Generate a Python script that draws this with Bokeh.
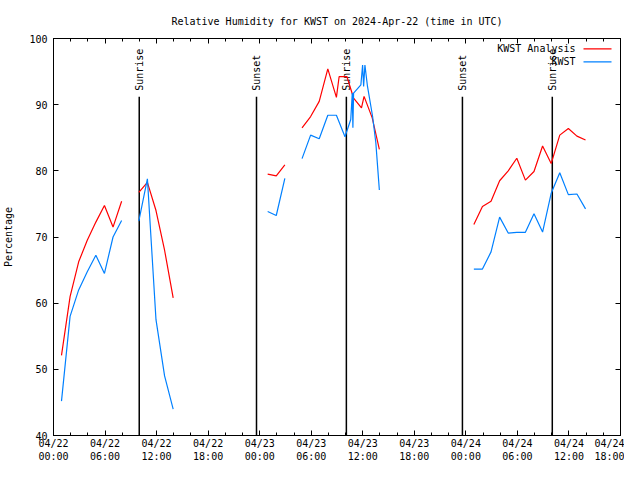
import numpy as np
from bokeh.plotting import figure
from bokeh.models import (Range1d, FixedTicker, LinearAxis, Label, BoxAnnotation,
                          CustomLabelingPolicy)
from bokeh.core.properties import value
from bokeh.embed import file_html
from bokeh.resources import INLINE

FONT = "DejaVu Sans Mono"
NAN = float("nan")

# ---- data (hours since 2024-04-22 00:00 UTC) ----
analysis_hours = [0.93, 1.93, 2.93, 3.93, 4.93, 5.93, 6.93, 7.93, NAN,
                  9.93, 10.93, 11.93, 12.93, 13.93, NAN,
                  24.93, 25.93, 26.93, NAN,
                  28.93, 29.93, 30.93, 31.93, 32.93, 33.25, 34.15, 34.93, 35.85, 36.15, 37.1, 37.93, NAN,
                  48.93, 49.93, 50.93, 51.93, 52.93, 53.93, 54.93, 55.93, 56.93, 57.93, 58.93, 59.93, 60.93, 61.93]
analysis_rh = [52.1, 61.0, 66.25, 69.5, 72.25, 74.75, 71.5, 75.4, NAN,
               76.75, 78.25, 74.0, 68.0, 60.8, NAN,
               79.5, 79.25, 80.9, NAN,
               86.5, 88.2, 90.5, 95.4, 91.1, 94.25, 94.25, 91.0, 89.5, 91.25, 88.0, 83.25, NAN,
               71.9, 74.6, 75.4, 78.5, 80.0, 81.9, 78.6, 79.9, 83.75, 81.1, 85.4, 86.4, 85.25, 84.65]

obs_hours = [0.93, 1.93, 2.93, 3.93, 4.93, 5.93, 6.93, 7.93, NAN,
             9.93, 10.93, 11.93, 12.93, 13.93, NAN,
             24.93, 25.93, 26.93, NAN,
             28.93, 29.93, 30.93, 31.93, 32.93, 33.93, 34.6, 34.78, 34.85, 34.93,
             35.78, 35.98, 36.1, 36.25, 36.55, 37.14, 37.52, 37.72, 37.93, NAN,
             48.93, 49.93, 50.93, 51.93, 52.93, 53.93, 54.93, 55.93, 56.93, 57.93, 58.93, 59.93, 60.93, 61.93]
obs_rh = [45.2, 58.0, 62.0, 64.75, 67.25, 64.5, 70.0, 72.5, NAN,
          72.4, 78.8, 57.5, 49.0, 44.0, NAN,
          73.85, 73.25, 78.85, NAN,
          81.85, 85.4, 84.85, 88.4, 88.4, 85.15, 87.75, 91.75, 86.5, 91.75,
          93.0, 96.0, 92.75, 96.0, 92.75, 88.25, 84.25, 80.75, 77.1, NAN,
          65.15, 65.15, 67.75, 73.0, 70.6, 70.7, 70.7, 73.5, 70.75, 76.6, 79.7, 76.4, 76.5, 74.25]

sun_hours = [9.98, 23.63, 34.09, 47.6, 58.06]
sun_labels = ["Sunrise", "Sunset", "Sunrise", "Sunset", "Sunrise"]

tick_hours = [0, 6, 12, 18, 24, 30, 36, 42, 48, 54, 60, 66]
tick_labels = ["04/22\n00:00", "04/22\n06:00", "04/22\n12:00", "04/22\n18:00",
               "04/23\n00:00", "04/23\n06:00", "04/23\n12:00", "04/23\n18:00",
               "04/24\n00:00", "04/24\n06:00", "04/24\n12:00", "04/24\n18:00"]
minor_hours = list(range(0, 67, 2))
y_ticks = [40, 50, 60, 70, 80, 90, 100]

series_names = ["KWST Analysis", "KWST"]
series_colors = ["#ff0000", "#0080ff"]

# ---- figure ----
p = figure(width=624, height=464, x_range=Range1d(0, 66), y_range=Range1d(40, 100),
           output_backend="svg", toolbar_location=None,
           title="Relative Humidity for KWST on 2024-Apr-22 (time in UTC)")
p.min_border_left = 52
p.min_border_right = 4
p.min_border_top = 38
p.min_border_bottom = 28
p.title.align = "center"
p.title.text_font = FONT
p.title.text_font_size = "10px"
p.title.text_font_style = "normal"
p.title.text_color = "black"
p.title.standoff = 24
p.grid.visible = False
p.outline_line_color = "black"
p.outline_line_width = 1
p.background_fill_color = "white"
p.border_fill_color = "white"

xa = p.xaxis[0]
xa.ticker = FixedTicker(ticks=tick_hours, minor_ticks=minor_hours)
xa.major_label_overrides = dict(zip(tick_hours, tick_labels))
xa.major_tick_in = 5
xa.major_tick_out = 0
xa.minor_tick_in = 3
xa.minor_tick_out = 0
xa.major_label_standoff = 2
xa.major_label_text_font = FONT
xa.major_label_text_font_size = "10px"
xa.major_label_text_color = "black"
xa.axis_line_color = "black"

ya = p.yaxis[0]
ya.ticker = FixedTicker(ticks=y_ticks)
ya.major_tick_in = 5
ya.major_tick_out = 0
ya.minor_tick_line_color = None
ya.major_label_standoff = 6
ya.major_label_text_font = FONT
ya.major_label_text_font_size = "10px"
ya.major_label_text_color = "black"
ya.axis_label = "Percentage"
ya.axis_label_text_font = FONT
ya.axis_label_text_font_size = "10px"
ya.axis_label_text_font_style = "normal"
ya.axis_label_text_color = "black"
ya.axis_label_standoff = 12
ya.axis_line_color = "black"

def no_labels():
    return CustomLabelingPolicy(code="""
        for (const i of indices) { indices.unset(i) }
        return indices
    """)

top = LinearAxis(ticker=FixedTicker(ticks=tick_hours, minor_ticks=minor_hours),
                 major_tick_in=5, major_tick_out=0, minor_tick_in=3, minor_tick_out=0,
                 major_label_text_font_size="0px", major_label_standoff=0,
                 major_label_policy=no_labels(), axis_line_color="black")
p.add_layout(top, "above")
right = LinearAxis(ticker=FixedTicker(ticks=y_ticks),
                   major_tick_in=5, major_tick_out=0, minor_tick_line_color=None,
                   major_label_text_font_size="0px", major_label_standoff=0,
                   major_label_policy=no_labels(), axis_line_color="black")
p.add_layout(right, "right")

# ---- sunrise / sunset markers ----
p.segment(x0=sun_hours, y0=[40] * len(sun_hours), x1=sun_hours, y1=[91.2] * len(sun_hours),
          line_color="black", line_width=1.5)
p.text(x=sun_hours, y=[92.1] * len(sun_hours), text=sun_labels, angle=np.pi / 2,
       text_align="left", text_baseline="middle", text_font=value(FONT),
       text_font_size="10px", text_color="black")

# ---- data lines ----
p.line(analysis_hours, analysis_rh, line_color=series_colors[0], line_width=1.2)
p.line(obs_hours, obs_rh, line_color=series_colors[1], line_width=1.2)

# ---- gnuplot-style key (text left of sample) ----
for i, (name, col) in enumerate(zip(series_names, series_colors)):
    yy = 386.7 - 13 * i
    p.add_layout(Label(x=522, y=yy, x_units="screen", y_units="screen", text=name,
                       text_align="right", text_baseline="middle",
                       text_font=FONT, text_font_size="10px", text_color="black"))
    p.add_layout(BoxAnnotation(left=530, right=558, top=yy + 0.6, bottom=yy - 0.6,
                               left_units="screen", right_units="screen",
                               top_units="screen", bottom_units="screen",
                               fill_color=col, fill_alpha=1.0, line_color=None))

open("out.html", "w").write(file_html(p, INLINE))
